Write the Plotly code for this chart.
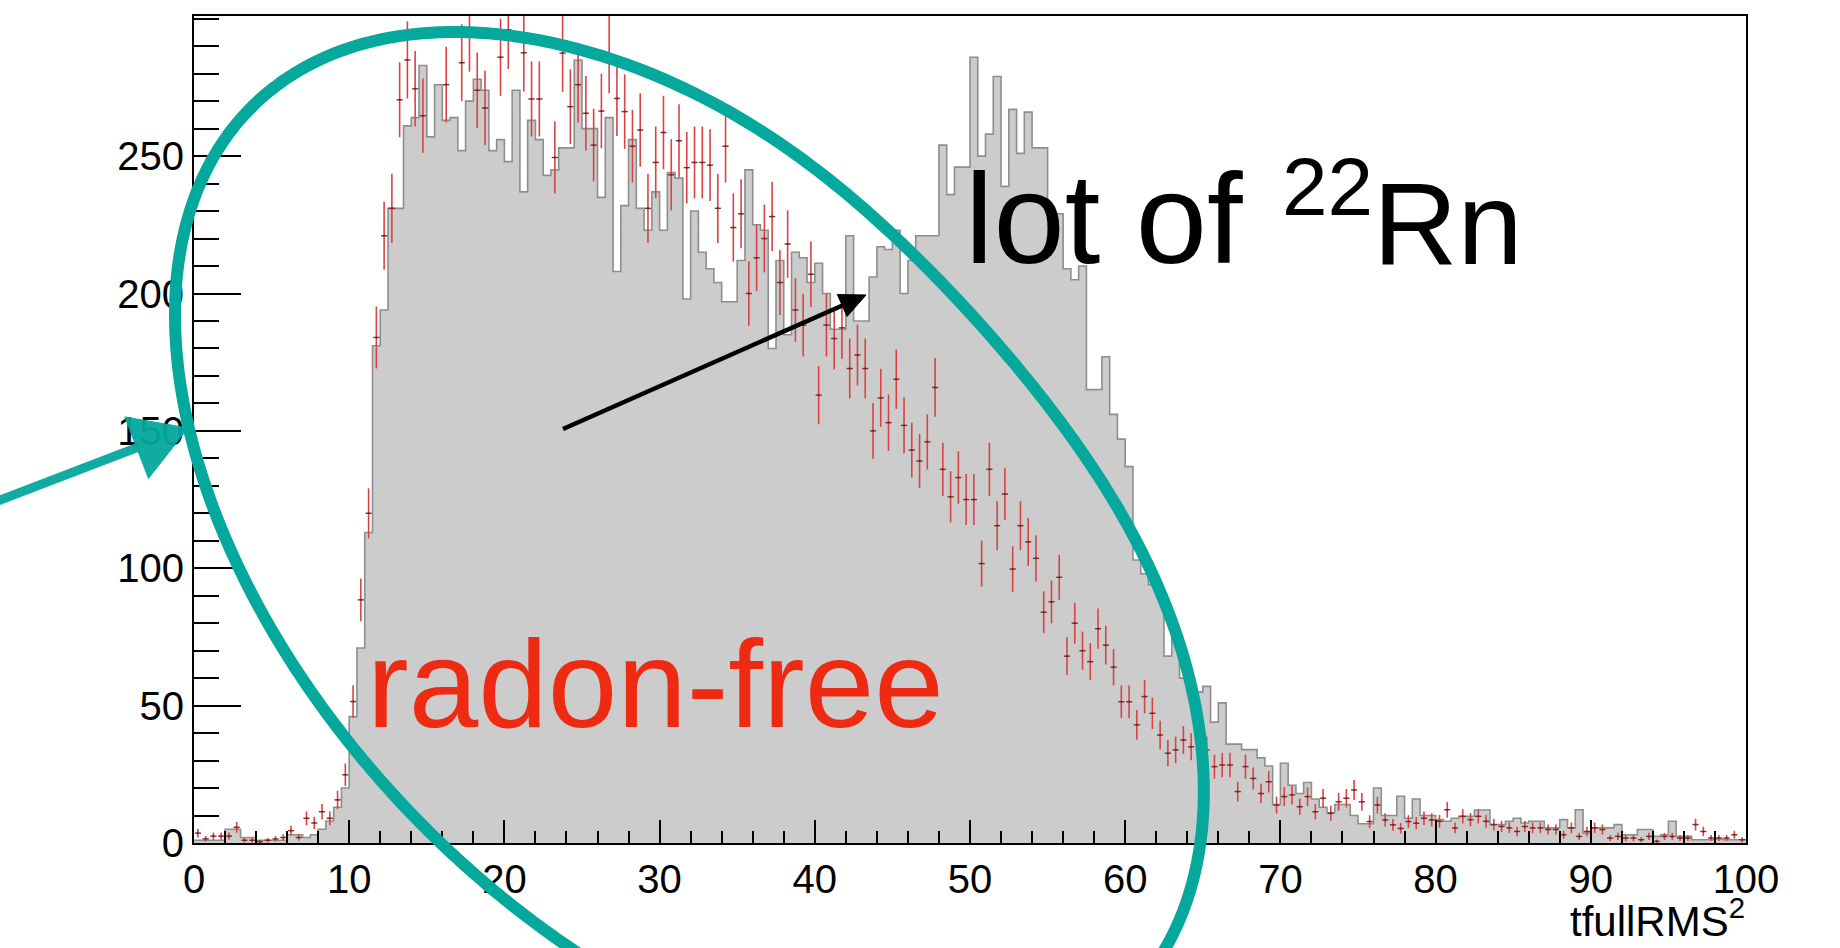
import numpy as np
import plotly.graph_objects as go

# ---------------- data ----------------
X_MIN, X_MAX = 0, 100
Y_MAX = 301
BIN_WIDTH = 0.5

GRAY_COUNTS = [
    1, 1, 1, 1, 5, 5, 2, 2, 1, 1,
    1, 1, 3, 3, 2, 3, 5, 8, 13, 20,
    46, 71, 113, 181, 194, 231, 231, 261, 264, 283,
    257, 276, 263, 264, 252, 270, 278, 274, 252, 256,
    248, 274, 237, 263, 256, 243, 245, 253, 253, 285,
    260, 260, 235, 264, 208, 232, 256, 231, 223, 237,
    223, 244, 242, 198, 230, 215, 209, 204, 197, 197,
    212, 245, 225, 223, 180, 212, 185, 215, 213, 204,
    211, 200, 187, 187, 221, 190, 190, 206, 217, 216,
    223, 200, 212, 221, 221, 221, 254, 236, 246, 246,
    286, 250, 258, 279, 239, 267, 251, 266, 253, 253,
    229, 229, 209, 205, 210, 165, 165, 177, 156, 147,
    137, 103, 98, 94, 91, 68, 75, 60, 57, 55,
    57, 44, 51, 36, 36, 34, 34, 31, 28, 14,
    29, 21, 18, 22, 16, 13, 11, 14, 14, 10,
    7, 7, 20, 10, 10, 17, 9, 16, 10, 10,
    8.5, 7.9, 9, 9.7, 9.7, 12, 12, 6.7, 6.7, 7.9,
    9, 7.3, 7.9, 7.9, 5.5, 5.5, 8.5, 5.5, 12.1, 3.6,
    5.5, 5.5, 5.5, 6.7, 3, 3, 4.9, 4.9, 2.4, 3,
    7.9, 2.4, 2.4, 1.2, 1.2, 1.2, 1.5, 1.2, 1.2, 1.2,
]

RED_COUNTS = [
    3.6, 1.5, 2.5, 2.5, 2.5, 5.7, 1, 1, 0.5, 1,
    1.5, 2, 4.5, 2, 9, 7.3, 11.4, 9, 15.7, 24.8,
    51.5, 88.5, 120, 184, 221, 231, 270.5, 285, 274.5, 264.7,
    305, 303, 276, 302, 284, 295, 274, 267.5, 304, 286,
    296, 303, 287.6, 270.8, 270.8, 303, 249.5, 287.5, 268, 276,
    265.6, 254, 266.4, 287, 271, 266.2, 253.6, 259.5, 231, 247.7,
    258.6, 243.2, 255.6, 245.8, 247.7, 247.7, 246.7, 231, 253.6, 224,
    229, 200, 213, 220, 228, 204, 218, 194, 188.5, 207,
    163, 188.5, 183.6, 187.5, 172.7, 177.6, 172.7, 150, 162, 153,
    168.8, 152, 143, 139, 146, 165.8, 136, 126, 133, 125,
    125, 101.7, 136, 115.5, 127, 99.7, 115.5, 109.6, 103.6, 84,
    87.8, 96.7, 68, 80, 70, 66, 78, 72, 64, 51.4,
    51.4, 43, 53.3, 47.2, 39.3, 32.7, 33.9, 37.5, 35, 34,
    33.9, 27.8, 28.4, 28.4, 18.7, 27.8, 23.5, 18, 22.3, 13.8,
    16.9, 17.5, 13.2, 16.9, 11.4, 16.3, 10.8, 15, 16.3, 19.3,
    15, 7.8, 13.8, 8.4, 6.6, 5.3, 7.8, 7.2, 9, 8.4,
    7.9, 12.1, 5.5, 9.7, 8.5, 9.7, 7.9, 6.7, 6, 5.5,
    4.2, 6, 5.5, 5.5, 4.9, 4.9, 3, 5.5, 2.4, 4.2,
    5.5, 4.9, 1.8, 2.4, 1.8, 1.8, 1.2, 2.4, 0.6, 2.4,
    2.4, 1.8, 1.8, 6.7, 4.2, 1.8, 1.8, 1.8, 3, 1.2,
]
RED_WEIGHT = 0.69   # per-entry weight of the red histogram (error = sqrt(w * content))

X_TICKS = list(range(0, 101, 10))
Y_TICKS = [0, 50, 100, 150, 200, 250]
X_TITLE = "tfullRMS<sup>2</sup>"
TEXT_RN = "lot of"
TEXT_RN_ISO = "<sup>22</sup>Rn"
TEXT_FREE = "radon-free"

# ---------------- geometry / styles ----------------
W, H = 1840, 948
PL, PR, PT, PB = 194, 1746, 16, 843
TEAL = "#05a89c"
FONT = "Liberation Sans, Arial, Helvetica, sans-serif"


def paper(px, py):
    return (px - PL) / (PR - PL), (PB - py) / (PB - PT)


def path_from_pixels(xs, ys, close=True):
    pts = [paper(a, b) for a, b in zip(xs, ys)]
    s = "M " + " L ".join(f"{u:.5f},{v:.5f}" for u, v in pts)
    return s + (" Z" if close else "")


def arrow_shapes(tail, tip, width, head_len, head_half, color, opacity=1.0):
    tail = np.array(tail, float)
    tip = np.array(tip, float)
    u = (tip - tail) / np.linalg.norm(tip - tail)
    n = np.array([-u[1], u[0]])
    base = tip - head_len * u
    c1, c2 = base + head_half * n, base - head_half * n
    shaft = path_from_pixels([tail[0], base[0] + 2 * u[0]], [tail[1], base[1] + 2 * u[1]], close=False)
    head = path_from_pixels([tip[0], c1[0], c2[0]], [tip[1], c1[1], c2[1]])
    return [
        dict(type="path", path=shaft, xref="paper", yref="paper",
             line=dict(color=color, width=width), layer="above", opacity=opacity),
        dict(type="path", path=head, xref="paper", yref="paper", fillcolor=color,
             line=dict(color=color, width=1), layer="above", opacity=opacity),
    ]


edges = X_MIN + BIN_WIDTH * np.arange(len(GRAY_COUNTS) + 1)
centers = edges[:-1] + BIN_WIDTH / 2

fig = go.Figure()

fig.add_trace(go.Scatter(
    x=edges, y=list(GRAY_COUNTS) + [GRAY_COUNTS[-1]],
    mode="lines", line=dict(shape="hv", color="#8e8e8e", width=1.6),
    fill="tozeroy", fillcolor="#cccccc", hoverinfo="skip", showlegend=False,
))

red = np.array(RED_COUNTS, dtype=float)
err = np.sqrt(RED_WEIGHT * red)
red_y = np.where(red <= Y_MAX, red, np.nan)
fig.add_trace(go.Scatter(
    x=centers, y=red_y, mode="markers",
    marker=dict(size=2, color="#7a2222"),
    error_y=dict(type="data", array=err, color="#d94343", thickness=1.6, width=0),
    error_x=dict(type="constant", value=0.2, color="#8a2a2a", thickness=1.4, width=0),
    hoverinfo="skip", showlegend=False,
))

shapes = []
# teal hand-drawn ellipse (pixel-space curve converted to paper coords)
t = np.linspace(-np.pi, np.pi, 721)
dent = 18 * np.exp(-((t + 0.5) / 0.45) ** 2)
ex = 689.5 + 457.8 * np.cos(t) + 234.8 * np.sin(t) - dent
ey = 552.5 + 520.5 * np.sin(t)
shapes.append(dict(type="path", path=path_from_pixels(ex, ey), xref="paper", yref="paper",
                   line=dict(color=TEAL, width=12), layer="above"))
# black arrow towards the radon bump
shapes += arrow_shapes((563, 429), (866, 295), 4.5, 26, 12, "black")
# teal arrow pointing at the y axis
shapes += arrow_shapes((-5, 502), (188, 428), 9, 55, 33, TEAL, opacity=0.95)

ann = []
x0, y0 = paper(963, 264 + 0.212 * 128 + 1)
ann.append(dict(text=TEXT_RN, x=x0, y=y0, xref="paper", yref="paper", xanchor="left",
                yanchor="bottom", showarrow=False, font=dict(size=128, color="black", family=FONT)))
x1, y1 = paper(1280, 265 + 0.212 * 117 + 1)
ann.append(dict(text=TEXT_RN_ISO, x=x1, y=y1, xref="paper", yref="paper", xanchor="left",
                yanchor="bottom", showarrow=False, font=dict(size=117, color="black", family=FONT)))
x2, y2 = paper(365, 727 + 0.212 * 125 + 1)
ann.append(dict(text=TEXT_FREE, x=x2, y=y2, xref="paper", yref="paper", xanchor="left",
                yanchor="bottom", showarrow=False, font=dict(size=125, color="#ee2a12", family=FONT)))
x3, y3 = paper(1747, 938 + 0.212 * 42)
ann.append(dict(text=X_TITLE, x=x3, y=y3, xref="paper", yref="paper", xanchor="right",
                yanchor="bottom", showarrow=False, font=dict(size=42, color="black", family=FONT)))

fig.update_layout(
    width=W, height=H,
    margin=dict(l=PL, r=W - PR, t=PT, b=H - PB, autoexpand=False),
    paper_bgcolor="white", plot_bgcolor="white", showlegend=False,
    font=dict(family=FONT, color="black"),
    annotations=ann, shapes=shapes,
)
fig.update_xaxes(
    range=[X_MIN, X_MAX], tickvals=X_TICKS, ticks="inside", ticklen=23, tickwidth=2,
    tickcolor="black", tickfont=dict(size=40, family=FONT),
    minor=dict(dtick=2, tick0=0, ticks="inside", ticklen=12, tickwidth=1.6, tickcolor="black"),
    showline=True, linecolor="black", linewidth=2, mirror=True,
    showgrid=False, zeroline=False,
)
fig.update_yaxes(
    range=[0, Y_MAX], tickvals=Y_TICKS, ticks="inside", ticklen=47, tickwidth=2,
    tickcolor="black", tickfont=dict(size=40, family=FONT),
    minor=dict(dtick=10, tick0=0, ticks="inside", ticklen=25, tickwidth=1.6, tickcolor="black"),
    showline=True, linecolor="black", linewidth=2, mirror=True,
    showgrid=False, zeroline=False,
)

fig.write_html("out.html")
